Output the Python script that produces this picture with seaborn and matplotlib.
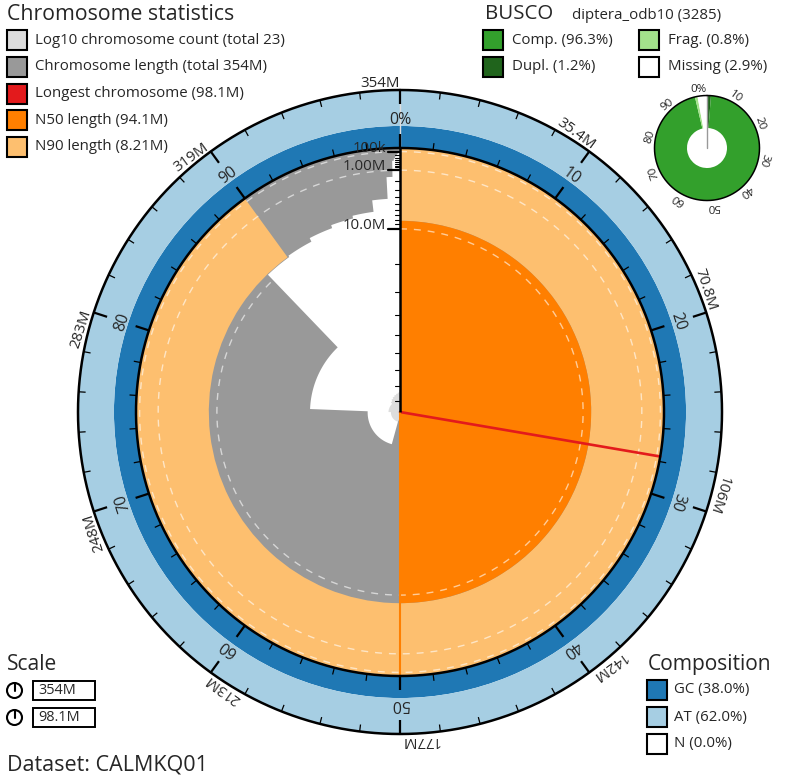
import numpy as np
import matplotlib
matplotlib.use("Agg")
import matplotlib.pyplot as plt
from matplotlib.patches import Rectangle, Circle
import seaborn as sns

# data (lengths in Mb, sorted)
chrom_len = [98.1, 94.1, 75.6, 43.2, 8.21, 7.9, 7.1, 6.5, 6.0, 4.1, 1.5,
             0.4, 0.3, 0.22, 0.18, 0.15, 0.13, 0.11, 0.1, 0.09, 0.08, 0.07, 0.06]
n50_len = 94.1
n90_len = 8.21
ring_labels = ["354M", "35.4M", "70.8M", "106M", "142M", "177M", "213M", "248M", "283M", "319M"]
pct_labels = ["0%", "10", "20", "30", "40", "50", "60", "70", "80", "90"]
len_ticks_major = [0.1, 1.0, 10.0]
len_ticks_major_lab = ["100k", "1.00M", "10.0M"]
len_ticks_minor = [0.2, 0.3, 0.4, 0.5, 0.6, 0.7, 0.8, 0.9,
                   2, 3, 4, 5, 6, 7, 8, 9,
                   20, 30, 40, 50, 60, 70, 80, 90]

busco_lineage = "diptera_odb10 (3285)"
busco_names = ["Comp.", "Frag.", "Dupl.", "Missing"]
busco_pct = [96.3, 0.8, 1.2, 2.9]

comp_names = ["GC", "AT", "N"]
comp_pct = [38.0, 62.0, 0.0]

dataset = "CALMKQ01"

# colours
c_count = "#dddddd"
c_len = "#999999"
c_long = "#e31a1c"
c_n50 = "#ff7f00"
c_n90 = "#fdbf6f"
c_gc = "#1f78b4"
c_at = "#a6cee3"
c_comp = "#33a02c"
c_dupl = "#20641c"
c_frag = "#a3e28b"

sns.set_theme(style="white")
plt.rcParams["font.family"] = ["Open Sans", "DejaVu Sans"]

W, H = 785, 780
fig = plt.figure(figsize=(W / 100, H / 100), dpi=100)

total = sum(chrom_len)
longest = max(chrom_len)
CX, CY, RMAX = 400, 412, 345
R_IN, R_OUT, R0 = 264, 322, 269


def len_to_r(L):
    return np.minimum(R_IN, R0 * (1 - np.sqrt(np.asarray(L, dtype=float) / longest)))


def pt(px):
    return px * 0.72


# ---- main snail plot ----
ax = fig.add_axes([(CX - RMAX) / W, (H - CY - RMAX) / H, 2 * RMAX / W, 2 * RMAX / H],
                  projection="polar")
ax.set_theta_zero_location("N")
ax.set_theta_direction(-1)
ax.set_ylim(0, RMAX)
ax.set_axis_off()

# composition ring
gc_w = (R_OUT - R_IN) * comp_pct[0] / 100
ax.bar(0, gc_w, width=2 * np.pi, bottom=R_IN, align="edge", color=c_gc, lw=0)
ax.bar(0, R_OUT - R_IN - gc_w, width=2 * np.pi, bottom=R_IN + gc_w, align="edge", color=c_at, lw=0)

# chromosome lengths / counts as a function of angle
lens = np.array(chrom_len)
cum = np.cumsum(lens)
th = np.linspace(0, 2 * np.pi, 7201)
pos = th / (2 * np.pi) * total
idx = np.clip(np.searchsorted(cum, pos, side="right"), 0, len(lens) - 1)
r_len = len_to_r(lens)[idx]
r_cnt = 20 * np.log10(idx + 1)

ax.fill_between(th, r_len, R_IN, color=c_len, lw=0)
ax.fill_between(th, 0, r_cnt, color=c_count, lw=0)

# N90 / N50 sectors
r90 = float(len_to_r(n90_len))
ax.bar(0, R_IN - r90, width=0.9 * 2 * np.pi, bottom=r90, align="edge", color=c_n90, lw=0)
ax.bar(0, r90, width=0.5 * 2 * np.pi, bottom=0, align="edge", color=c_n50, lw=0)

# dashed scale circles
thc = np.linspace(0, 2 * np.pi, 1441)
for L in len_ticks_major:
    rr = float(len_to_r(L))
    sns.lineplot(x=thc, y=np.full_like(thc, rr), ax=ax, color="white", alpha=0.6, lw=1,
                 linestyle=(0, (5, 5)), estimator=None, sort=False, legend=False)

# longest and N50 lines
th_long = longest / total * 2 * np.pi
sns.lineplot(x=[th_long, th_long], y=[0, R_IN], ax=ax, color=c_long, lw=1.9,
             estimator=None, sort=False, legend=False)
sns.lineplot(x=[np.pi, np.pi], y=[0, R_IN], ax=ax, color=c_n50, lw=1.5,
             estimator=None, sort=False, legend=False)

# axis line and circles
ax.plot([0, 0], [R_IN + 2, R_OUT - 14], color="#dddddd", lw=1)
ax.plot([0, 0], [0, R_IN], color="black", lw=1.8, solid_capstyle="butt")
ax.plot(thc, np.full_like(thc, R_IN), color="black", lw=1.8)
ax.plot(thc, np.full_like(thc, R_OUT), color="black", lw=1.8)

for k in range(50):
    t = k / 50 * 2 * np.pi
    major = k % 5 == 0
    ln = 14 if major else 7
    w = 1.6 if major else 0.9
    ax.plot([t, t], [R_OUT - ln, R_OUT], color="black", lw=w, solid_capstyle="butt")
    ax.plot([t, t], [R_IN, R_IN + ln], color="black", lw=w, solid_capstyle="butt")

for k in range(10):
    t = k / 10 * 2 * np.pi
    rot = -k * 36
    ax.text(t, 325, ring_labels[k], rotation=rot, rotation_mode="anchor",
            ha="right", va="baseline", fontsize=pt(15), clip_on=False)
    ax.text(t, 288, pct_labels[k], rotation=rot, rotation_mode="anchor",
            ha="center", va="baseline", fontsize=pt(16), clip_on=False)

# ---- BUSCO donut ----
BX, BY, BR = 707, 148, 70
bax = fig.add_axes([(BX - BR) / W, (H - BY - BR) / H, 2 * BR / W, 2 * BR / H], projection="polar")
bax.set_theta_zero_location("N")
bax.set_theta_direction(-1)
bax.set_ylim(0, BR)
bax.set_axis_off()
b_in, b_out = 20, 52.5
seg_pct = [busco_pct[2], busco_pct[0] - busco_pct[2], busco_pct[1], busco_pct[3]]
seg_col = [c_dupl, c_comp, c_frag, "white"]
start = 0
for p, c in zip(seg_pct, seg_col):
    bax.bar(start / 100 * 2 * np.pi, b_out - b_in, width=p / 100 * 2 * np.pi, bottom=b_in,
            align="edge", color=c, lw=0)
    start += p
bax.plot([0, 0], [0, b_out], color="#999999", lw=1)
bax.plot(thc, np.full_like(thc, b_out), color="black", lw=1.1)
for k in range(10):
    t = k / 10 * 2 * np.pi
    bax.text(t, 55.5, pct_labels[k], rotation=-k * 36, rotation_mode="anchor",
             ha="right", va="baseline", fontsize=pt(11.5), clip_on=False)

# ---- overlay for legends / radial axis ----
ov = fig.add_axes([0, 0, 1, 1])
ov.set_xlim(0, W)
ov.set_ylim(H, 0)
ov.set_axis_off()

for L in len_ticks_minor:
    y = CY - float(len_to_r(L))
    ov.plot([395, 400], [y, y], color="black", lw=0.8)
for L, lab in zip(len_ticks_major, len_ticks_major_lab):
    y = CY - float(len_to_r(L))
    ov.plot([388, 400], [y, y], color="black", lw=1.6)
    ov.text(386, y, lab, ha="right", va="baseline", fontsize=pt(15))


def swatch(x, y, color):
    ov.add_patch(Rectangle((x, y), 20, 20, facecolor=color, edgecolor="black", lw=1.5))


ov.text(7, 20.5, "Chromosome statistics", fontsize=pt(21.3), va="baseline")
stat_labels = [
    f"Log10 chromosome count (total {len(chrom_len)})",
    f"Chromosome length (total {total:.0f}M)",
    f"Longest chromosome ({longest}M)",
    f"N50 length ({n50_len}M)",
    f"N90 length ({n90_len}M)",
]
stat_cols = [c_count, c_len, c_long, c_n50, c_n90]
for i, (lab, c) in enumerate(zip(stat_labels, stat_cols)):
    y0 = 30 + i * 26.75
    swatch(7, y0, c)
    ov.text(35, y0 + 10, lab, va="center", fontsize=pt(15))

ov.text(485, 19.3, "BUSCO", fontsize=pt(20.5), va="baseline")
ov.text(572, 19, busco_lineage, fontsize=pt(15), va="baseline")
bpos = [(483, 30), (639, 30), (483, 57), (639, 57)]
bcols = [c_comp, c_frag, c_dupl, "white"]
for (x, y), n, p, c in zip(bpos, busco_names, busco_pct, bcols):
    swatch(x, y, c)
    ov.text(x + 29, y + 10, f"{n} ({p}%)", va="center", fontsize=pt(15))

ov.text(7, 670, "Scale", fontsize=pt(21), va="baseline")
for i, lab in enumerate([f"{total:.0f}M", f"{longest}M"]):
    cy = 690.5 + i * 27
    ov.add_patch(Circle((14.5, cy), 7.5, facecolor="white", edgecolor="black", lw=1.5))
    ov.plot([14.5, 14.5], [cy, cy - 7.5], color="black", lw=1.5)
    ov.add_patch(Rectangle((33, cy - 9.5), 62, 19, facecolor="white", edgecolor="black", lw=1.4))
    ov.text(38, cy, lab, va="center", fontsize=pt(14.5))

ov.text(7, 770, f"Dataset: {dataset}", fontsize=pt(21.5), va="baseline")

ov.text(648, 670, "Composition", fontsize=pt(21), va="baseline")
for i, (n, p, c) in enumerate(zip(comp_names, comp_pct, [c_gc, c_at, "white"])):
    y0 = 680 + i * 27
    swatch(647, y0, c)
    ov.text(674, y0 + 10, f"{n} ({p:.1f}%)", va="center", fontsize=pt(15))

fig.savefig("out.png", dpi=100)
